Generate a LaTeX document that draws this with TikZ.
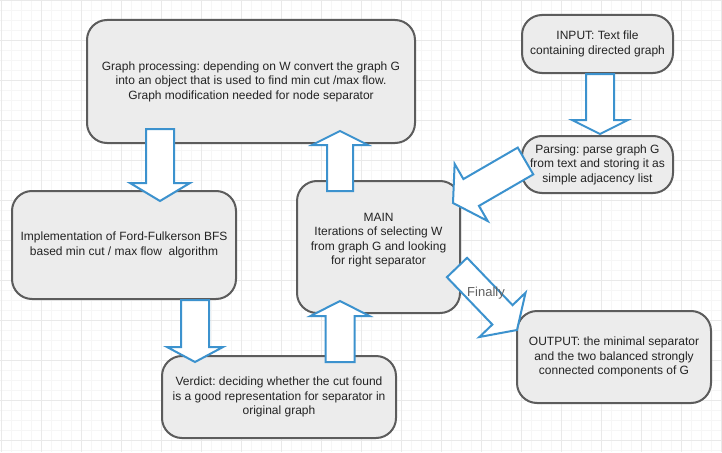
\documentclass[tikz,border=0pt]{standalone}
\usepackage{fontspec}
\setmainfont{Liberation Sans}
\usetikzlibrary{calc}
\frenchspacing
\definecolor{boxfill}{RGB}{236,236,236}
\definecolor{boxline}{RGB}{92,92,92}
\definecolor{arrblue}{RGB}{60,146,206}
\definecolor{txt}{RGB}{35,35,35}
\definecolor{gridminor}{RGB}{246,246,246}
\definecolor{gridmajor}{RGB}{233,233,233}
\definecolor{lbl}{RGB}{95,95,95}
% #1 tail, #2 tip, #3 shaft half width, #4 head half width, #5 head length
\newcommand{\myblockarrow}[5]{%
  \coordinate (hb) at ($(#2)!#5!(#1)$);
  \draw[barrow] ($(#1)!#3!90:(#2)$) -- ($(hb)!#3!90:(#2)$) -- ($(hb)!#4!90:(#2)$)
    -- (#2) -- ($(hb)!#4!-90:(#2)$) -- ($(hb)!#3!-90:(#2)$) -- ($(#1)!#3!-90:(#2)$) -- cycle;}
\begin{document}
\begin{tikzpicture}[x=1pt,y=-1pt,
  box/.style={draw=boxline, fill=boxfill, line width=2pt, rounded corners=20pt, inner sep=0pt},
  boxtext/.style={text=txt, align=center, font=\fontsize{12}{14.5}\selectfont},
  barrow/.style={draw=arrblue, fill=white, line width=2pt, line join=miter},
  gmin/.style={draw=gridminor, line width=0.8pt},
  gmaj/.style={draw=gridmajor, line width=0.8pt},
  lab/.style={text=lbl, font=\fontsize{13}{15}\selectfont}]
\useasboundingbox (0,0) rectangle (722,452);
\fill[white] (0,0) rectangle (722,452);
% grid
\foreach \i in {0,...,72} {\draw[gmin] (1.7+\i*10,0) -- (1.7+\i*10,452);}
\foreach \i in {0,...,45} {\draw[gmin] (0,\i*10) -- (722,\i*10);}
\foreach \i in {0,...,18} {\draw[gmaj] (1.7+\i*40,0) -- (1.7+\i*40,452);}
\foreach \i in {0,...,11} {\draw[gmaj] (0,\i*40) -- (722,\i*40);}
% boxes
\node[box, boxtext, minimum width=328pt, minimum height=123pt] (G) at (251,81.5)
  {Graph processing: depending on W convert the graph G\\into an object that is used to find min cut /max flow.\\Graph modification needed for node separator};
\node[box, boxtext, minimum width=151pt, minimum height=58pt] (IN) at (597.5,44)
  {INPUT: Text file\\containing directed graph};
\node[box, boxtext, minimum width=151pt, minimum height=57pt] (PA) at (597.5,164.5)
  {Parsing: parse graph G\\from text and storing it as\\simple adjacency list};
\node[box, boxtext, minimum width=224pt, minimum height=108pt] (FF) at (124,245)
  {Implementation of Ford-Fulkerson BFS\\based min cut / max flow\ \ algorithm};
\node[box, minimum width=163pt, minimum height=132pt] (MA) at (378.5,247) {};
\node[boxtext] (MAt) at (378.5,240)
  {MAIN\\Iterations of selecting W\\from graph G and looking\\for right separator};
\node[box, boxtext, minimum width=234pt, minimum height=82pt] (VE) at (279,397)
  {Verdict: deciding whether the cut found\\is a good representation for separator in\\original graph};
\node[box, boxtext, minimum width=194pt, minimum height=92pt] (OU) at (614,357)
  {OUTPUT: the minimal separator\\and the two balanced strongly\\connected components of G};
% arrow end points
\coordinate (a0) at (IN.south -| 600,0);
\coordinate (a1) at (600,134);
\coordinate (b0) at (160,129);
\coordinate (b1) at (160,201);
\coordinate (c0) at (FF.south -| 195,0);
\coordinate (c1) at (195,362);
\coordinate (d0) at (340,362);
\coordinate (d1) at (340,301);
\coordinate (e0) at (340,191);
\coordinate (e1) at (340,131);
\coordinate (f0) at (525.5,161);
\coordinate (f1) at (453,203);
\coordinate (g0) at (457,267.5);
\coordinate (g1) at (517,330);
% arrows
\myblockarrow{a0}{a1}{14pt}{28pt}{14pt}
\myblockarrow{b0}{b1}{14pt}{30pt}{18pt}
\myblockarrow{c0}{c1}{14pt}{28pt}{15pt}
\myblockarrow{d0}{d1}{14.5pt}{29.5pt}{15pt}
\myblockarrow{e0}{e1}{13pt}{28pt}{14pt}
\myblockarrow{f0}{f1}{15.5pt}{33pt}{21pt}
\myblockarrow{g0}{g1}{14pt}{32pt}{21pt}
\node[lab] (fin) at (486,293) {Finally};
\end{tikzpicture}
\end{document}
